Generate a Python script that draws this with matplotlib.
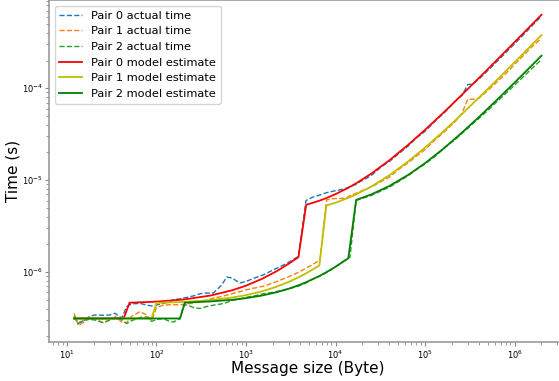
import matplotlib
matplotlib.use('Agg')
import matplotlib.pyplot as plt

# message sizes (bytes) of the measured points
sizes = [12, 13.4, 15.9, 18, 20.5, 25.5, 30, 34.4, 37.4, 40.8,
         46.5, 52.8, 65.5, 77.8, 88.4, 100, 119, 141, 155, 183,
         200, 220, 260, 306, 360, 431, 534, 608, 700, 780,
         857, 1000, 1250, 1560, 2000, 2850, 3850, 4680, 5500, 6700,
         7300, 7940, 9500, 11000, 13300, 14500, 17000, 18700, 25000, 32000,
         40000, 52000, 65000, 80000, 100000, 130000, 170000, 220000, 260000, 300000,
         340000, 400000, 500000, 650000, 800000, 1000000, 1300000, 1600000, 2000000]

pair0_actual = [3.2e-7, 2.8e-7, 3.0e-7, 3.3e-7, 3.4e-7, 3.38e-7, 3.4e-7, 3.55e-7, 3.35e-7, 3.15e-7,
                4.2e-7, 4.5e-7, 4.55e-7, 4.37e-7, 4.27e-7, 4.37e-7, 4.55e-7, 4.75e-7, 5.0e-7, 5.1e-7,
                5.2e-7, 5.3e-7, 5.5e-7, 5.8e-7, 5.9e-7, 5.9e-7, 7.2e-7, 8.8e-7, 8.6e-7, 8.0e-7,
                7.6e-7, 7.9e-7, 8.6e-7, 9.3e-7, 1.05e-6, 1.24e-6, 1.48e-6, 6.0e-6, 6.5e-6, 6.9e-6,
                7.1e-6, 7.3e-6, 7.6e-6, 7.8e-6, 8.2e-6, 8.5e-6, 9.0e-6, 9.6e-6, 1.12e-5, 1.38e-5,
                1.6e-5, 1.98e-5, 2.36e-5, 2.88e-5, 3.4e-5, 4.4e-5, 5.6e-5, 7.3e-5, 8.4e-5, 1.1e-4,
                1.11e-4, 1.26e-4, 1.55e-4, 2.0e-4, 2.45e-4, 3.05e-4, 3.95e-4, 4.9e-4, 6.1e-4]

pair1_actual = [3.55e-7, 2.6e-7, 2.9e-7, 3.2e-7, 3.1e-7, 2.8e-7, 3.0e-7, 3.25e-7, 3.1e-7, 2.85e-7,
                2.8e-7, 3.3e-7, 3.7e-7, 3.4e-7, 2.95e-7, 4.1e-7, 4.35e-7, 4.4e-7, 4.4e-7, 4.4e-7,
                4.45e-7, 4.5e-7, 4.6e-7, 4.75e-7, 4.9e-7, 5.2e-7, 5.4e-7, 5.6e-7, 5.8e-7, 6.0e-7,
                6.1e-7, 6.4e-7, 6.7e-7, 7.0e-7, 7.6e-7, 8.7e-7, 9.9e-7, 1.1e-6, 1.2e-6, 1.35e-6,
                2.9e-6, 6.1e-6, 6.3e-6, 6.3e-6, 6.4e-6, 6.8e-6, 7.2e-6, 7.5e-6, 8.4e-6, 9.6e-6,
                1.08e-5, 1.33e-5, 1.55e-5, 1.82e-5, 2.15e-5, 2.75e-5, 3.45e-5, 4.4e-5, 5.4e-5, 7.6e-5,
                7.6e-5, 7.8e-5, 9.4e-5, 1.2e-4, 1.45e-4, 1.82e-4, 2.35e-4, 2.9e-4, 3.5e-4]

pair2_actual = [3.3e-7, 2.75e-7, 3.0e-7, 3.05e-7, 3.0e-7, 2.8e-7, 3.0e-7, 3.2e-7, 3.25e-7, 3.0e-7,
                2.75e-7, 2.95e-7, 3.2e-7, 3.25e-7, 2.9e-7, 3.05e-7, 3.1e-7, 2.9e-7, 2.85e-7, 3.1e-7,
                4.35e-7, 4.37e-7, 4.1e-7, 4.0e-7, 4.2e-7, 4.35e-7, 4.5e-7, 4.65e-7, 4.9e-7, 5.0e-7,
                5.1e-7, 5.3e-7, 5.5e-7, 5.8e-7, 6.0e-7, 6.5e-7, 7.0e-7, 7.6e-7, 8.3e-7, 9.0e-7,
                9.4e-7, 9.9e-7, 1.1e-6, 1.22e-6, 1.38e-6, 1.45e-6, 6.0e-6, 6.2e-6, 6.8e-6, 7.6e-6,
                8.4e-6, 9.8e-6, 1.12e-5, 1.3e-5, 1.5e-5, 1.82e-5, 2.3e-5, 2.8e-5, 3.25e-5, 3.65e-5,
                4.1e-5, 4.7e-5, 5.7e-5, 7.3e-5, 8.8e-5, 1.08e-4, 1.38e-4, 1.68e-4, 2.05e-4]

# sizes at which the model estimates are plotted
model_sizes = [12, 43, 50, 88, 100, 183, 208, 400, 700, 1000,
               1500, 2200, 3000, 3850, 4700, 6600, 7900, 10000, 13900, 17000,
               25000, 40000, 65000, 100000, 160000, 250000, 400000, 650000, 1000000, 1500000,
               2000000]

pair0_model = [3.12e-7, 3.12e-7, 4.63e-7, 4.73e-7, 4.76e-7, 4.98e-7, 5.04e-7, 5.54e-7, 6.32e-7, 7.1e-7,
               8.4e-7, 1.02e-6, 1.23e-6, 1.45e-6, 5.38e-6, 5.97e-6, 6.38e-6, 7.04e-6, 8.26e-6, 9.24e-6,
               1.175e-5, 1.646e-5, 2.43e-5, 3.53e-5, 5.41e-5, 8.24e-5, 1.295e-4, 2.08e-4, 3.18e-4, 4.75e-4,
               6.32e-4]

pair1_model = [3.12e-7, 3.12e-7, 3.12e-7, 3.12e-7, 4.61e-7, 4.7e-7, 4.73e-7, 4.94e-7, 5.27e-7, 5.6e-7,
               6.15e-7, 6.92e-7, 7.8e-7, 8.74e-7, 9.67e-7, 1.176e-6, 5.29e-6, 5.68e-6, 6.41e-6, 7.0e-6,
               8.5e-6, 1.132e-5, 1.602e-5, 2.26e-5, 3.39e-5, 5.08e-5, 7.9e-5, 1.26e-4, 1.918e-4, 2.858e-4,
               3.798e-4]

pair2_model = [3.12e-7, 3.12e-7, 3.12e-7, 3.12e-7, 3.12e-7, 3.12e-7, 4.64e-7, 4.78e-7, 4.98e-7, 5.19e-7,
               5.54e-7, 6.02e-7, 6.57e-7, 7.16e-7, 7.74e-7, 9.05e-7, 9.95e-7, 1.14e-6, 1.41e-6, 6.09e-6,
               6.98e-6, 8.64e-6, 1.142e-5, 1.53e-5, 2.196e-5, 3.2e-5, 4.86e-5, 7.64e-5, 1.152e-4, 1.707e-4,
               2.262e-4]

fig = plt.figure(figsize=(5.59, 3.81), dpi=100)
# the original is cropped: the axes run past the right edge
ax = fig.add_axes([0.0877, 0.1024, 0.9267, 0.8966])

ax.plot(sizes, pair0_actual, '--', color='#1f77b4', lw=1.0, label='Pair 0 actual time')
ax.plot(sizes, pair1_actual, '--', color='#ff7f0e', lw=1.0, label='Pair 1 actual time')
ax.plot(sizes, pair2_actual, '--', color='#2ca02c', lw=1.0, label='Pair 2 actual time')
ax.plot(model_sizes, pair0_model, '-', color='r', lw=1.3, label='Pair 0 model estimate')
ax.plot(model_sizes, pair1_model, '-', color='y', lw=1.3, label='Pair 1 model estimate')
ax.plot(model_sizes, pair2_model, '-', color='g', lw=1.3, label='Pair 2 model estimate')

ax.set_xscale('log')
ax.set_yscale('log')
ax.set_xlim(6.3, 3.86e6)
ax.set_ylim(1.73e-7, 9.06e-4)

ax.set_xlabel('Message size (Byte)', fontsize=11)
ax.set_ylabel('Time (s)', fontsize=11)
ax.xaxis.set_label_coords(0.5, -0.057)
ax.yaxis.set_label_coords(-0.055, 0.5)

for s in ax.spines.values():
    s.set_color('#999999')
    s.set_linewidth(1.2)
ax.tick_params(which='major', labelsize=6, length=3, pad=1.5, color='#888888')
ax.tick_params(which='minor', length=2, color='#888888')

ax.legend(loc='upper left', fontsize=8.2)

plt.savefig('out.png', dpi=100)
